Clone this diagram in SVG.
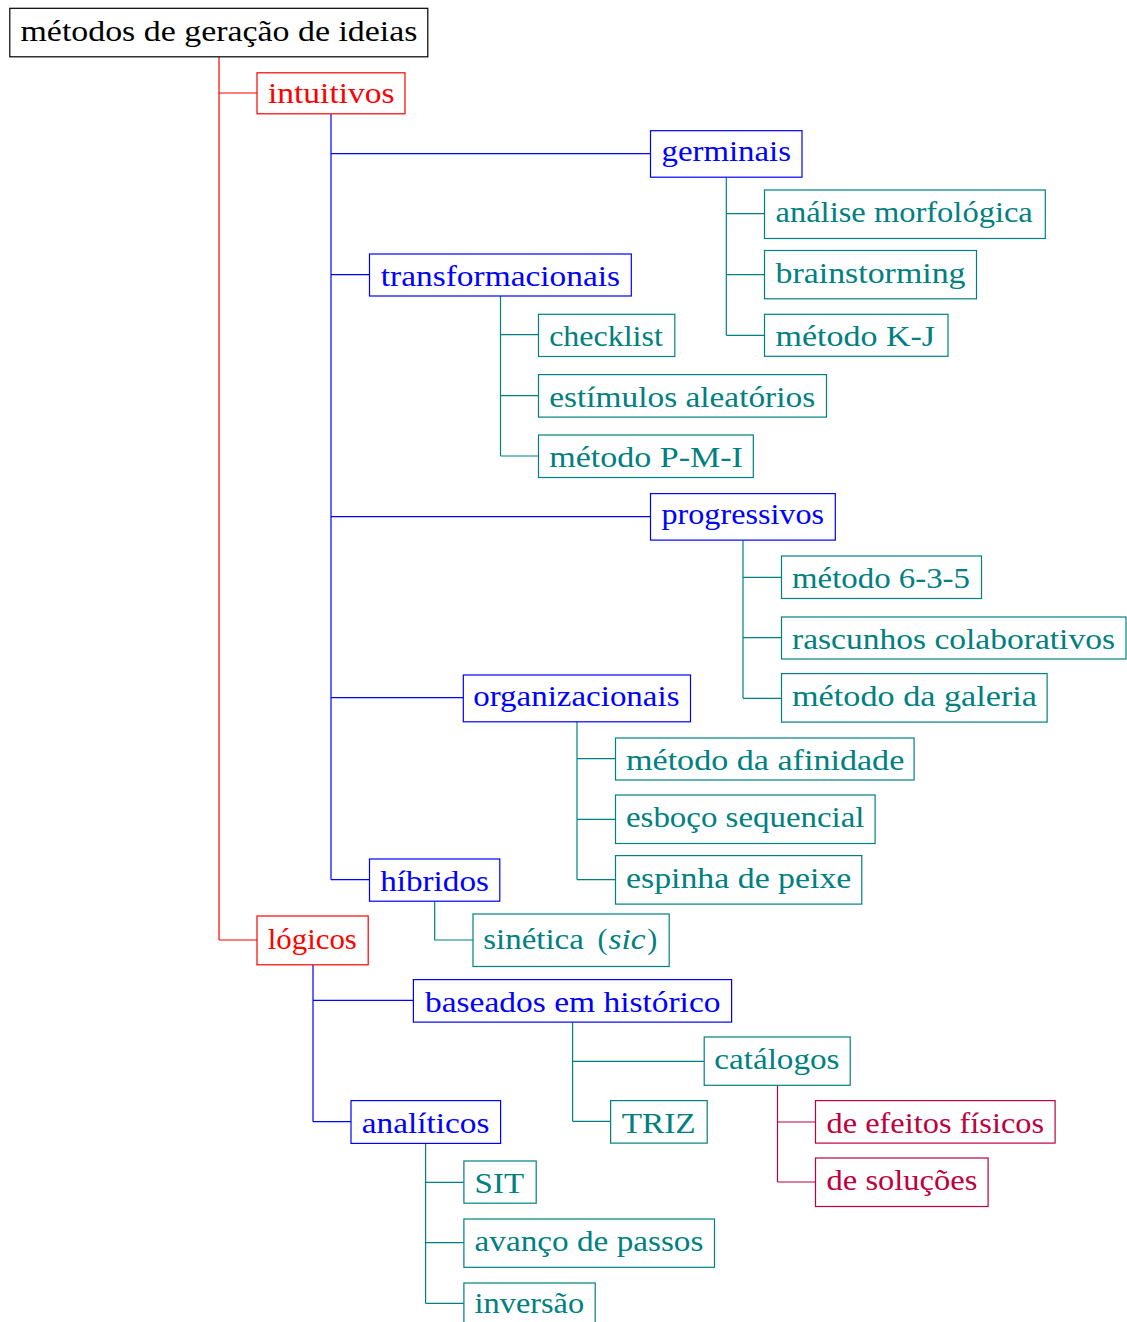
<svg xmlns="http://www.w3.org/2000/svg" width="1127" height="1322" viewBox="0 0 1127 1322">
  <style>
    text { font-family: "Liberation Serif", "Times New Roman", serif; font-size: 30px; }
    rect { fill: #ffffff; stroke-width: 1.2; }
    .edges line, .edges path { fill: none; stroke-width: 1.2; }
    .k rect { stroke: #000000; } .k text { fill: #000000; }
    .r rect { stroke: #ff0000; } .r text { fill: #ff0000; }
    .b rect { stroke: #0000ff; } .b text { fill: #0000ff; }
    .t rect { stroke: #008080; } .t text { fill: #008080; }
    .p rect { stroke: #bf0040; } .p text { fill: #bf0040; }
    .er { stroke: #ff0000; } .eb { stroke: #0000ff; } .et { stroke: #008080; } .ep { stroke: #bf0040; }
  </style>
  <rect x="0" y="0" width="1127" height="1322" style="fill:#ffffff;stroke:none"/>

  <!-- tree connectors: each branch coloured like the children it leads to -->
  <g id="connectors" class="edges">
    <path class="er" d="M219 57V940M219 93H257M219 940H257"/>
    <path class="eb" d="M331 113.7V879.7M331 153.7H650.5M331 274.7H369.5M331 516.7H650.5M331 697.7H463.3M331 879.7H369.5"/>
    <path class="et" d="M726.3 177.3V335.3M726.3 213.7H764.5M726.3 274.7H764.5M726.3 335.3H764.5"/>
    <path class="et" d="M500.5 296V456M500.5 334.7H538.5M500.5 395.7H538.5M500.5 456H538.5"/>
    <path class="et" d="M743 540.3V698.3M743 577.3H781.5M743 637.7H781.5M743 698.3H781.5"/>
    <path class="et" d="M577 722V879.7M577 758.7H615.5M577 819.3H615.5M577 879.7H615.5"/>
    <path class="et" d="M434.7 901.3V940H473"/>
    <path class="eb" d="M313 965V1121.7M313 1000.3H413.4M313 1121.7H351"/>
    <path class="et" d="M572.6 1022.3V1121.3M572.6 1061.3H704.2M572.6 1121.3H610.6"/>
    <path class="ep" d="M777.5 1085.3V1182M777.5 1122H815.5M777.5 1182H815.5"/>
    <path class="et" d="M425.6 1143.7V1303.3M425.6 1182.3H463.9M425.6 1242.7H463.9M425.6 1303.3H463.9"/>
  </g>

  <g id="n-root" class="k"><rect x="9.8" y="8.3" width="418" height="48.5"/><text x="20.5" y="41" textLength="397" lengthAdjust="spacingAndGlyphs">métodos de geração de ideias</text></g>
  <g id="n-intuitivos" class="r"><rect x="257" y="72.8" width="148" height="41"/><text x="268" y="102.6" textLength="126.5" lengthAdjust="spacingAndGlyphs">intuitivos</text></g>
  <g id="n-germinais" class="b"><rect x="650.5" y="130.7" width="151.5" height="46.5"/><text x="661.5" y="160.6" textLength="129.5" lengthAdjust="spacingAndGlyphs">germinais</text></g>
  <g id="n-transformacionais" class="b"><rect x="369.5" y="254" width="261.8" height="42"/><text x="380.8" y="285.5" textLength="239.3" lengthAdjust="spacingAndGlyphs">transformacionais</text></g>
  <g id="n-analise" class="t"><rect x="764.5" y="190" width="280.8" height="48.5"/><text x="775.5" y="222.2" textLength="257.3" lengthAdjust="spacingAndGlyphs">análise morfológica</text></g>
  <g id="n-brainstorming" class="t"><rect x="764.5" y="250.5" width="212" height="48.3"/><text x="775.5" y="282.5" textLength="190" lengthAdjust="spacingAndGlyphs">brainstorming</text></g>
  <g id="n-kj" class="t"><rect x="764.5" y="314.3" width="183.5" height="42"/><text x="775.5" y="345.8" textLength="159.5" lengthAdjust="spacingAndGlyphs">método K-J</text></g>
  <g id="n-checklist" class="t"><rect x="538.5" y="314.3" width="136.3" height="42.2"/><text x="549.2" y="346.2" textLength="113.6" lengthAdjust="spacingAndGlyphs">checklist</text></g>
  <g id="n-estimulos" class="t"><rect x="538.5" y="374.6" width="288" height="42.5"/><text x="549.2" y="406.8" textLength="266" lengthAdjust="spacingAndGlyphs">estímulos aleatórios</text></g>
  <g id="n-pmi" class="t"><rect x="538.5" y="435" width="214.8" height="42.5"/><text x="549.2" y="467.2" textLength="193.7" lengthAdjust="spacingAndGlyphs">método P-M-I</text></g>
  <g id="n-progressivos" class="b"><rect x="650.5" y="493.6" width="184.8" height="46.5"/><text x="661.5" y="523.6" textLength="162.5" lengthAdjust="spacingAndGlyphs">progressivos</text></g>
  <g id="n-635" class="t"><rect x="781.5" y="556" width="200" height="42.5"/><text x="792" y="588.2" textLength="178" lengthAdjust="spacingAndGlyphs">método 6-3-5</text></g>
  <g id="n-rascunhos" class="t"><rect x="781.5" y="617" width="344.5" height="42"/><text x="792" y="648.5" textLength="323" lengthAdjust="spacingAndGlyphs">rascunhos colaborativos</text></g>
  <g id="n-galeria" class="t"><rect x="781.5" y="673.6" width="265.6" height="48.5"/><text x="792" y="705.8" textLength="245" lengthAdjust="spacingAndGlyphs">método da galeria</text></g>
  <g id="n-organizacionais" class="b"><rect x="463.3" y="675" width="227.2" height="46.8"/><text x="473.2" y="705.5" textLength="206.3" lengthAdjust="spacingAndGlyphs">organizacionais</text></g>
  <g id="n-afinidade" class="t"><rect x="615.5" y="738" width="298.6" height="42"/><text x="626" y="769.5" textLength="278.3" lengthAdjust="spacingAndGlyphs">método da afinidade</text></g>
  <g id="n-esboco" class="t"><rect x="615.5" y="795" width="259.6" height="48.5"/><text x="626" y="827.2" textLength="238.5" lengthAdjust="spacingAndGlyphs">esboço sequencial</text></g>
  <g id="n-espinha" class="t"><rect x="615.5" y="855.6" width="246.3" height="48.5"/><text x="626" y="887.8" textLength="225.3" lengthAdjust="spacingAndGlyphs">espinha de peixe</text></g>
  <g id="n-hibridos" class="b"><rect x="369.5" y="859" width="130.3" height="42.2"/><text x="380.2" y="890.8" textLength="108.7" lengthAdjust="spacingAndGlyphs">híbridos</text></g>
  <g id="n-sinetica" class="t"><rect x="473" y="914" width="196.2" height="52.5"/><text y="949"><tspan x="483.3" textLength="100.5" lengthAdjust="spacingAndGlyphs">sinética</tspan> <tspan x="597.5">(</tspan><tspan x="608.5" font-style="italic" textLength="37" lengthAdjust="spacingAndGlyphs">sic</tspan><tspan x="647.3">)</tspan></text></g>
  <g id="n-logicos" class="r"><rect x="257" y="916" width="111.2" height="48.8"/><text x="267.7" y="948.5" textLength="89.2" lengthAdjust="spacingAndGlyphs">lógicos</text></g>
  <g id="n-baseados" class="b"><rect x="413.4" y="979.6" width="318.2" height="42.5"/><text x="425" y="1011.8" textLength="295.5" lengthAdjust="spacingAndGlyphs">baseados em histórico</text></g>
  <g id="n-catalogos" class="t"><rect x="704.2" y="1037" width="146" height="48.3"/><text x="714.3" y="1068.8" textLength="125.2" lengthAdjust="spacingAndGlyphs">catálogos</text></g>
  <g id="n-triz" class="t"><rect x="610.6" y="1100.6" width="96.6" height="42.5"/><text x="621.7" y="1132.8" textLength="74" lengthAdjust="spacingAndGlyphs">TRIZ</text></g>
  <g id="n-analiticos" class="b"><rect x="351" y="1100.6" width="149.6" height="42.8"/><text x="361.8" y="1133" textLength="127.6" lengthAdjust="spacingAndGlyphs">analíticos</text></g>
  <g id="n-efeitos" class="p"><rect x="815.5" y="1100.6" width="239.6" height="42.5"/><text x="826.6" y="1132.8" textLength="217.5" lengthAdjust="spacingAndGlyphs">de efeitos físicos</text></g>
  <g id="n-solucoes" class="p"><rect x="815.5" y="1158" width="172.6" height="48.5"/><text x="826.6" y="1190.2" textLength="150.8" lengthAdjust="spacingAndGlyphs">de soluções</text></g>
  <g id="n-sit" class="t"><rect x="463.9" y="1161" width="72.3" height="42.2"/><text x="474.6" y="1192.8" textLength="49.5" lengthAdjust="spacingAndGlyphs">SIT</text></g>
  <g id="n-avanco" class="t"><rect x="463.9" y="1219" width="250.6" height="48.3"/><text x="474.6" y="1251" textLength="228.8" lengthAdjust="spacingAndGlyphs">avanço de passos</text></g>
  <g id="n-inversao" class="t"><rect x="463.9" y="1283" width="131.3" height="42.5"/><text x="474.6" y="1313" textLength="109.5" lengthAdjust="spacingAndGlyphs">inversão</text></g>
</svg>
